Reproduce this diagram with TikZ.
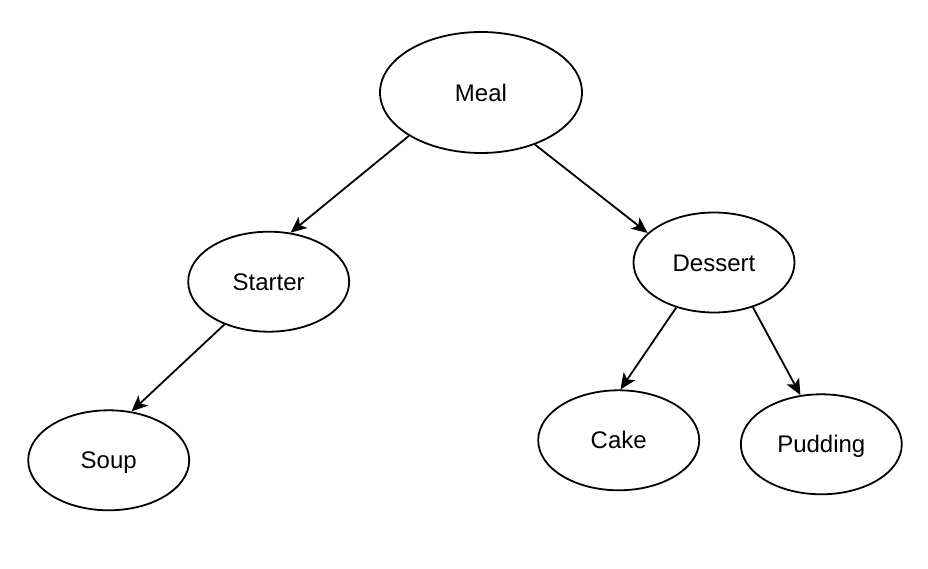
\documentclass[tikz,border=0pt]{standalone}
\usepackage{fontspec}
\setmainfont{Liberation Sans}
\usetikzlibrary{shapes.geometric,arrows.meta}
\begin{document}
\begin{tikzpicture}[x=1pt,y=1pt,
  ell/.style={ellipse,draw,line width=1.8pt,minimum width=161pt,minimum height=100pt,inner sep=0pt,
    text height=21.2pt,text depth=4pt,font=\fontsize{24}{28}\selectfont},
  conn/.style={line width=1.8pt,-{Stealth[length=16pt,width=14pt,inset=4pt]}}]
\useasboundingbox (0,0) rectangle (928,568);
\node[ell,minimum width=202pt,minimum height=121pt] (meal) at (481,475.5) {Meal};
\node[ell] (starter) at (268.7,286.3) {Starter};
\node[ell] (dessert) at (714,305.5) {Dessert};
\node[ell] (soup) at (108.7,107.7) {Soup};
\node[ell] (cake) at (618.7,127.7) {Cake};
\node[ell] (pudding) at (821.3,123.7) {Pudding};
\draw[conn] (meal.211.2) -- (starter.66.5);
\draw[conn] (meal.-44.1) -- (dessert.156.6);
\draw[conn] (starter.224.5) -- (soup.65.9);
\draw[conn] (dessert.230.2) -- (cake.88.5);
\draw[conn] (dessert.-49.4) -- (pudding.113);
\end{tikzpicture}
\end{document}
